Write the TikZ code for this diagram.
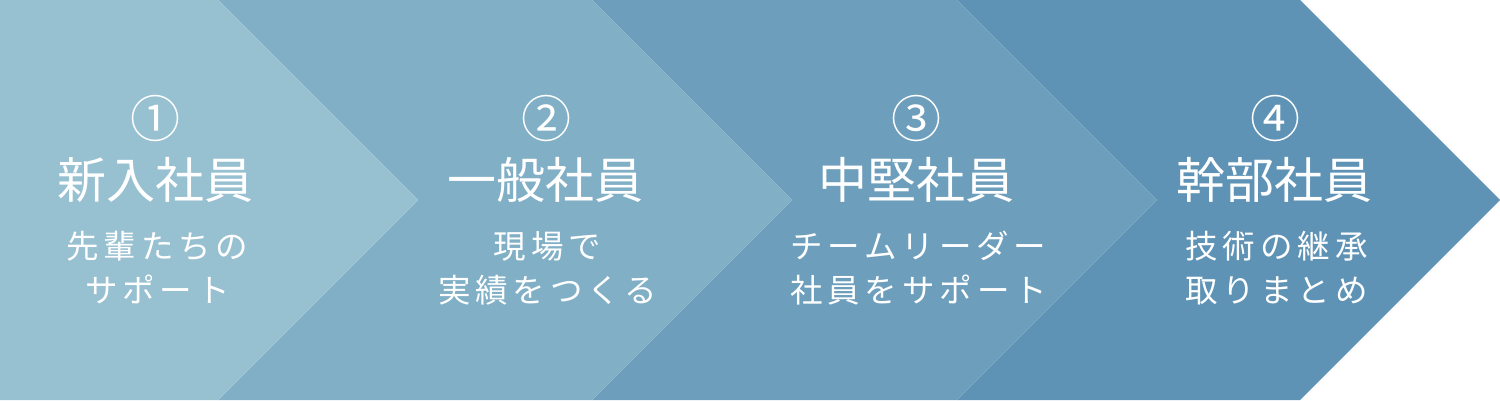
\documentclass[tikz,border=0pt]{standalone}
\usepackage{fontspec}
\newfontfamily\jpfont{Noto Sans CJK JP}
\newfontfamily\jpsub[LetterSpace=15]{Noto Sans CJK JP}
\definecolor{cA}{HTML}{97C0D1}
\definecolor{cB}{HTML}{80AFC6}
\definecolor{cC}{HTML}{6D9EBC}
\definecolor{cD}{HTML}{5E93B6}
\begin{document}
\begin{tikzpicture}[x=1pt,y=1pt,
  numtxt/.style={text=white,font=\jpfont\fontsize{50}{50}\selectfont,inner sep=0,anchor=base},
  titletxt/.style={text=white,font=\jpfont\fontsize{49}{49}\selectfont,inner sep=0,anchor=base},
  subtxt/.style={text=white,font=\jpsub\fontsize{32.5}{32.5}\selectfont,inner sep=0,anchor=base,xshift=2.5pt}]
\useasboundingbox (0,0) rectangle (1500,400);
\fill[white] (0,0) rectangle (1500,400);
% chevrons
\fill[cD] (957,400) -- (1300,400) -- (1500,200) -- (1300,0) -- (957,0) -- (1157,200) -- cycle;
\fill[cC] (592,400) -- (957,400) -- (1157,200) -- (957,0) -- (592,0) -- (792,200) -- cycle;
\fill[cB] (218,400) -- (592,400) -- (792,200) -- (592,0) -- (218,0) -- (418,200) -- cycle;
\fill[cA] (0,400) -- (218,400) -- (418,200) -- (218,0) -- (0,0) -- cycle;
% stage 1
\node[numtxt]   (n1) at (155,263) {①};
\node[titletxt] (t1) at (155,202) {新入社員};
\node[subtxt]   (s1a) at (155,142) {先輩たちの};
\node[subtxt]   (s1b) at (155,98) {サポート};
% stage 2
\node[numtxt]   (n2) at (546,263) {②};
\node[titletxt] (t2) at (545,202) {一般社員};
\node[subtxt]   (s2a) at (545,142) {現場で};
\node[subtxt]   (s2b) at (545,98) {実績をつくる};
% stage 3
\node[numtxt]   (n3) at (916,263) {③};
\node[titletxt] (t3) at (916,202) {中堅社員};
\node[subtxt]   (s3a) at (916,142) {チームリーダー};
\node[subtxt]   (s3b) at (916,98) {社員をサポート};
% stage 4
\node[numtxt]   (n4) at (1275,263) {④};
\node[titletxt] (t4) at (1274,202) {幹部社員};
\node[subtxt]   (s4a) at (1274,142) {技術の継承};
\node[subtxt]   (s4b) at (1274,98) {取りまとめ};
\end{tikzpicture}
\end{document}
